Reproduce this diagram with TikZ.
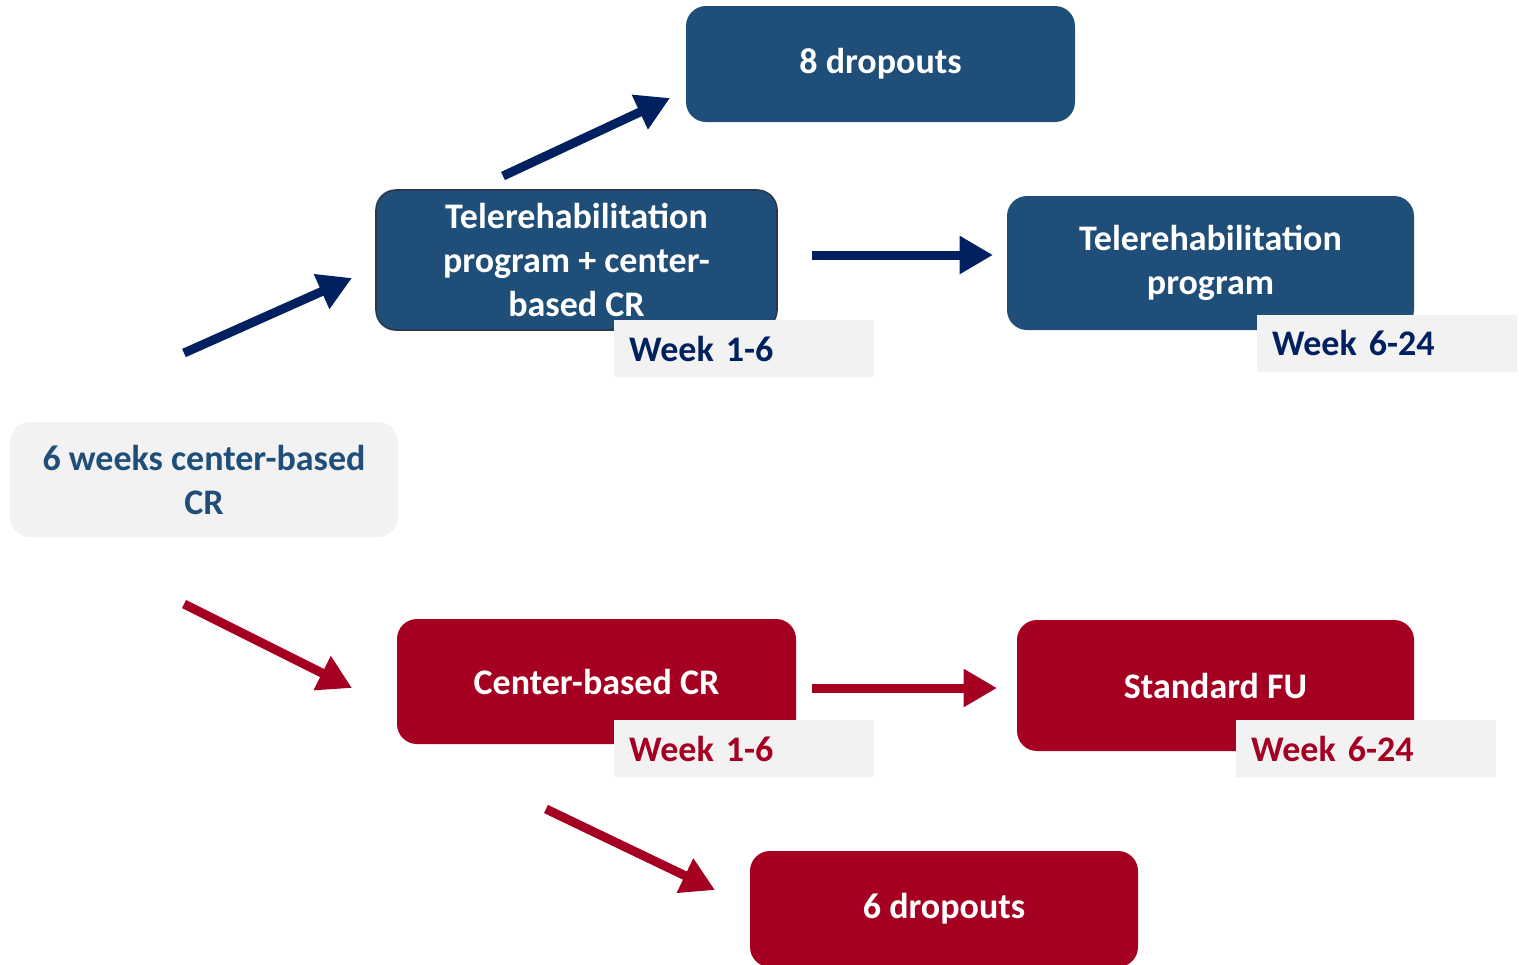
\documentclass[tikz,border=0pt]{standalone}
\usepackage{fontspec}
\setmainfont{Carlito}
\usetikzlibrary{arrows.meta}
\definecolor{boxblue}{RGB}{31,78,121}
\definecolor{navy}{RGB}{0,32,96}
\definecolor{boxred}{RGB}{165,0,33}
\definecolor{lgray}{RGB}{242,242,242}
\definecolor{edgegray}{RGB}{45,55,75}
\tikzset{
  base/.style={rounded corners=15pt, align=center, inner sep=0pt,
    font=\bfseries\fontsize{27}{33}\selectfont},
  bluebox/.style={base, fill=boxblue, text=white},
  redbox/.style={base, fill=boxred, text=white},
  graybox/.style={base, fill=lgray, text=boxblue},
  weekbox/.style={fill=lgray, inner xsep=11.25pt, inner ysep=0pt,
    text width=172.5pt, align=left, minimum height=42.75pt,
    font=\bfseries\fontsize{27}{33}\selectfont},
  bluearrow/.style={draw=navy, line width=6.75pt, -{Triangle[length=25pt,width=27pt]}},
  redarrow/.style={draw=boxred, line width=6.75pt, -{Triangle[length=25pt,width=27pt]}},
}
\begin{document}
\begin{tikzpicture}[x=0.75pt,y=-0.75pt]
\useasboundingbox (0,0) rectangle (1519,964);
% top branch
\node[bluebox, minimum width=291.75pt, minimum height=87pt] (drop8) at (880.5,64) {\raisebox{-2pt}{8 dropouts}};
\node[bluebox, draw=edgegray, line width=1.2pt, minimum width=300.75pt, minimum height=105pt] (telecr) at (576.5,260) {Telerehabilitation\\program + center-\\based CR};
\node[bluebox, minimum width=305.25pt, minimum height=100.5pt] (tele) at (1210.5,263) {\raisebox{-3pt}{Telerehabilitation}\\\raisebox{-3pt}{program}};
\node[weekbox, text=navy] (wk1) at (744,348.5) {Week 1-6};
\node[weekbox, text=navy] (wk2) at (1387,343) {Week 6-24};
% start
\node[graybox, minimum width=291pt, minimum height=86.25pt] (start) at (204,479.5) {6 weeks center-based\\CR};
% bottom branch
\node[redbox, minimum width=299.25pt, minimum height=93.75pt] (cbcr) at (596.5,681.5) {Center-based CR};
\node[redbox, minimum width=297.75pt, minimum height=98.25pt] (sfu) at (1215.5,685.5) {Standard FU};
\node[weekbox, text=boxred] (wk3) at (744,748.5) {Week 1-6};
\node[weekbox, text=boxred] (wk4) at (1366,748.5) {Week 6-24};
\node[redbox, minimum width=291pt, minimum height=87pt] (drop6) at (944,909) {\raisebox{-2pt}{6 dropouts}};
% arrow end points
\coordinate (a1s) at (184,353); \coordinate (a1e) at (352,278);
\coordinate (a2s) at (503,176); \coordinate (a2e) at (670,98);
\coordinate (a3s) at (812,255); \coordinate (a3e) at (993,255);
\coordinate (a4s) at (184,604); \coordinate (a4e) at (352,688);
\coordinate (a5s) at (812,688); \coordinate (a5e) at (997,688);
\coordinate (a6s) at (546,809); \coordinate (a6e) at (715,890);
\draw[bluearrow] (a1s) -- (a1e);
\draw[bluearrow] (a2s) -- (a2e);
\draw[bluearrow] (a3s) -- (a3e);
\draw[redarrow] (a4s) -- (a4e);
\draw[redarrow] (a5s) -- (a5e);
\draw[redarrow] (a6s) -- (a6e);
\end{tikzpicture}
\end{document}
